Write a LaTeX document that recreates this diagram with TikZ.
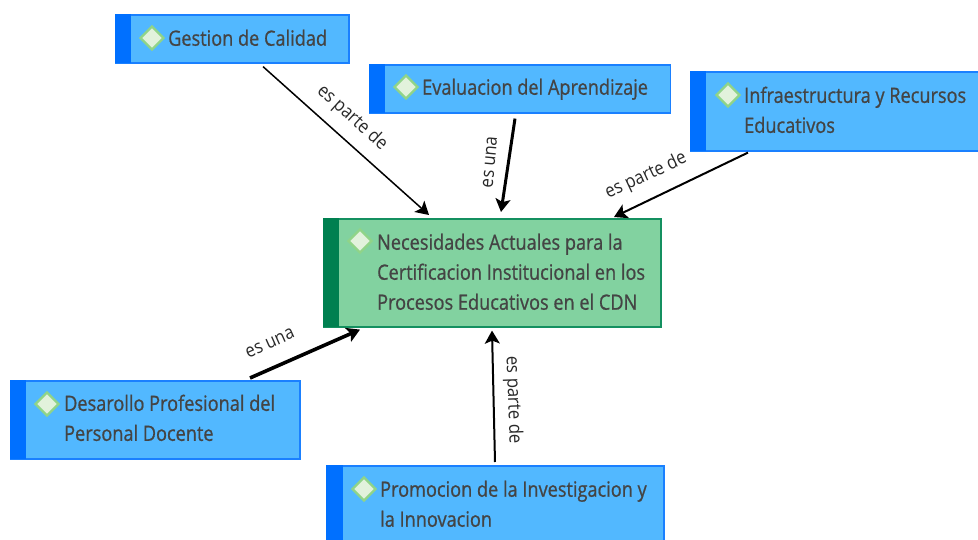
\documentclass[tikz,border=0pt]{standalone}
\usepackage{fontspec}
\setmainfont[FakeStretch=0.86,FakeBold=0.8]{Open Sans}
\newfontfamily\labfont[FakeStretch=0.9]{Open Sans}
\usetikzlibrary{arrows.meta,shapes.geometric,calc}
\definecolor{bluefill}{HTML}{52B8FF}
\definecolor{bluestrip}{HTML}{0070FF}
\definecolor{blueline}{HTML}{1A80FF}
\definecolor{greenfill}{HTML}{82D2A0}
\definecolor{greenstrip}{HTML}{008050}
\definecolor{greenline}{HTML}{149060}
\definecolor{txt}{HTML}{444444}
\definecolor{dfill}{HTML}{E2F2DC}
\definecolor{dline}{HTML}{90D488}
\tikzset{
  x=1pt,y=-1pt,
  box/.style={rectangle,anchor=north west,inner sep=0pt,line width=1.6pt,draw=blueline,fill=bluefill},
  gbox/.style={box,draw=greenline,fill=greenfill},
  strip/.style={rectangle,anchor=north west,inner sep=0pt,fill=bluestrip},
  gstrip/.style={strip,fill=greenstrip},
  gem/.style={diamond,aspect=1,inner sep=0pt,minimum size=24pt,fill=dfill,draw=dline,line width=2.2pt},
  tag/.style={anchor=north west,inner sep=0pt,align=left,text=txt,font=\fontsize{21.1}{30}\selectfont},
  lab/.style={inner sep=0pt,text=txt!60!black,font=\labfont\fontsize{18.6}{20}\selectfont},
  con/.style={draw=black,-{Stealth[length=13pt,width=15pt,inset=3pt]}},
}
\begin{document}
\begin{tikzpicture}
\useasboundingbox (0,0) rectangle (978,540);
\clip (0,0) rectangle (978,540);
% boxes
\node[box,minimum width=233pt,minimum height=48pt] (gc) at (115,14) {};
\node[strip,minimum width=16pt,minimum height=49pt] (gcs) at (115,14) {};
\node[box,minimum width=301pt,minimum height=48pt] (ev) at (368.5,64) {};
\node[strip,minimum width=16pt,minimum height=49pt] (evs) at (368.5,64) {};
\node[box,minimum width=300pt,minimum height=79pt] (inf) at (690,71) {};
\node[strip,minimum width=16pt,minimum height=80pt] (infs) at (690,71) {};
\node[gbox,minimum width=337pt,minimum height=108pt] (main) at (323,218) {};
\node[gstrip,minimum width=16pt,minimum height=109pt] (mains) at (323,218) {};
\node[box,minimum width=289pt,minimum height=78pt] (des) at (10,380) {};
\node[strip,minimum width=16pt,minimum height=79pt] (dess) at (10,380) {};
\node[box,minimum width=337pt,minimum height=90pt] (pro) at (326,465) {};
\node[strip,minimum width=17pt,minimum height=91pt] (pros) at (326,465) {};
% diamonds
\node[gem] (gcd) at (152,38) {};
\node[gem] (evd) at (406,87) {};
\node[gem] (infd) at (728,95) {};
\node[gem] (maind) at (360,241) {};
\node[gem] (desd) at (47,404) {};
\node[gem] (prod) at (364,489) {};
% texts
\node[tag] (gct) at (168,29.5) {Gestion de Calidad};
\node[tag] (evt) at (422,78.5) {Evaluacion del Aprendizaje};
\node[tag] (inft) at (744,86.5) {Infraestructura y Recursos\\Educativos};
\node[tag] (maint) at (377,233.5) {Necesidades Actuales para la\\Certificacion Institucional en los\\Procesos Educativos en el CDN};
\node[tag] (dest) at (64,394.5) {Desarollo Profesional del\\Personal Docente};
\node[tag] (prot) at (380,480.5) {Promocion de la Investigacion y\\la Innovacion};
% connector ends
\coordinate (a1) at ($(gc.south west)+(148,3)$);
\coordinate (a2) at ($(main.north west)+(106,-3)$);
\coordinate (b1) at ($(ev.south west)+(146.5,5)$);
\coordinate (b2) at ($(main.north west)+(178,-6)$);
\coordinate (c1) at ($(inf.south west)+(58,1)$);
\coordinate (c2) at ($(main.north west)+(291,-1)$);
\coordinate (d1) at ($(des.north west)+(240,-2)$);
\coordinate (d2) at ($(main.south west)+(37,2)$);
\coordinate (e1) at ($(pro.north west)+(169,-3)$);
\coordinate (e2) at ($(main.south west)+(169,3)$);
% connectors
\draw[con,line width=1.5pt] (a1) -- (a2);
\draw[con,line width=3pt] (b1) -- (b2);
\draw[con,line width=2pt] (c1) -- (c2);
\draw[con,line width=3.6pt] (d1) -- (d2);
\draw[con,line width=2pt] (e1) -- (e2);
% connector labels
\node[lab,rotate=-42] (l1) at (352,118) {es parte de};
\node[lab,rotate=85] (l2) at (490,162) {es una};
\node[lab,rotate=25] (l3) at (646,176) {es parte de};
\node[lab,rotate=24] (l4) at (270,343) {es una};
\node[lab,rotate=-88] (l5) at (513,400) {es parte de};
\end{tikzpicture}
\end{document}
